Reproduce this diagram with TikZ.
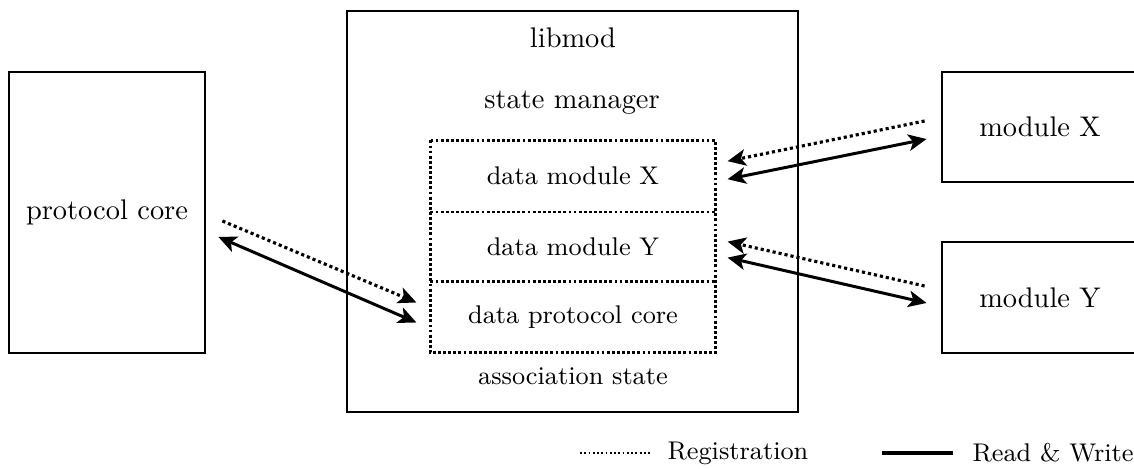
\documentclass[tikz,border=0pt]{standalone}
\usetikzlibrary{arrows.meta}
\begin{document}
\begin{tikzpicture}[x=0.352pt,y=-0.352pt,
  box/.style={draw,line width=1pt,rectangle,inner sep=0pt},
  slot/.style={rectangle,inner sep=0pt,
    minimum width=284*0.352pt,minimum height=70.4*0.352pt,font=\small},
  slotline/.style={line width=1pt,dash pattern=on 1pt off 0.8pt},
  tip/.tip={Stealth[length=6.4pt,width=5.8pt,inset=1.6pt]},
  rw/.style={line width=1.05pt,tip-tip},
  reg/.style={line width=1.1pt,dash pattern=on 1.1pt off 1.05pt,-tip},
  legdot/.style={line width=0.65pt,dash pattern=on 0.65pt off 0.85pt},
  legline/.style={line width=1.1pt},
  lbl/.style={inner sep=0pt}]
\useasboundingbox (0,0) rectangle (1134,469);

% components
\node[box,minimum width=196*0.352pt,minimum height=281*0.352pt] (pc) at (107,212.5) {protocol core};
\node[box,minimum width=451*0.352pt,minimum height=401*0.352pt] (lib) at (572.5,211.5) {};
\node[lbl] (libname) at (573,38) {libmod};
\node[lbl] (sm) at (572,103) {state manager};
\node[slot] (dmx) at (573,176.2) {data module X};
\node[slot] (dmy) at (573,246.6) {data module Y};
\node[slot] (dpc) at (573,317) {data protocol core};
\node[lbl,font=\small] (as) at (573,376) {association state};
\node[box,minimum width=196*0.352pt,minimum height=110*0.352pt] (modx) at (1040,127) {module X};
\node[box,minimum width=196*0.352pt,minimum height=111*0.352pt] (mody) at (1040,297.5) {module Y};

% dotted outline of the association state slots
\draw[slotline] (dmx.north west) rectangle (dpc.south east);
\draw[slotline] (dmx.south west) -- (dmx.south east);
\draw[slotline] (dpc.north west) -- (dpc.north east);

% registration and read/write connectors
\draw[reg] ([shift={(16,8.5)}]pc.east) -- ([shift={(-14,-14.5)}]dpc.west);
\draw[rw]  ([shift={(12,24.5)}]pc.east) -- ([shift={(-14,5.5)}]dpc.west);

\draw[reg] ([shift={(-16,-6)}]modx.west) -- ([shift={(12,-15)}]dmx.east);
\draw[rw]  ([shift={(-14,12)}]modx.west) -- ([shift={(12,3)}]dmx.east);

\draw[reg] ([shift={(-16,-11.5)}]mody.west) -- ([shift={(12,-5)}]dmy.east);
\draw[rw]  ([shift={(-14,5.5)}]mody.west) -- ([shift={(12,11)}]dmy.east);

% legend
\node[lbl,anchor=west,font=\small] (lreg) at (667,453) {Registration};
\coordinate (ldot) at (580,453);
\draw[legdot] (ldot) -- ([xshift=-17*0.352pt]lreg.west);
\node[lbl,anchor=west,font=\small] (lrw) at (972,453) {Read \& Write};
\coordinate (lsol) at (882,453);
\draw[legline] (lsol) -- ([xshift=-19*0.352pt]lrw.west);
\end{tikzpicture}
\end{document}
